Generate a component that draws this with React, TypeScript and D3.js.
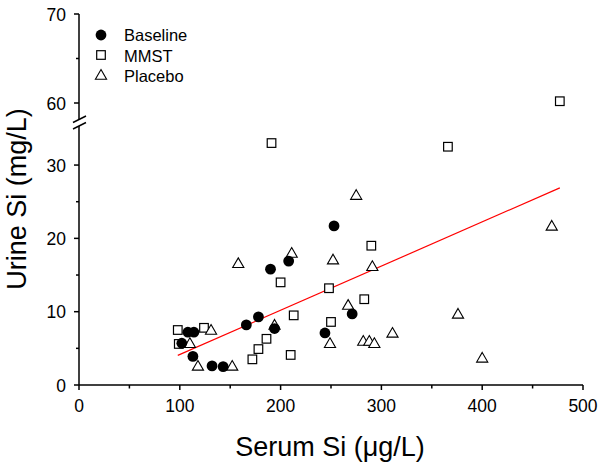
import * as d3 from 'd3'
import React from 'react'

// serum Si (µg/L) vs urine Si (mg/L)
const baselineX = [102, 108, 114, 113, 132, 143, 166, 178, 190, 194, 208, 244, 253, 271]
const baselineY = [5.7, 7.2, 7.2, 3.9, 2.6, 2.5, 8.2, 9.3, 15.8, 7.7, 16.9, 7.1, 21.7, 9.7]

const mmstX = [98, 99, 124, 172, 178, 186, 191, 200, 210, 213, 248, 250, 283, 290, 366, 477]
const mmstY = [7.5, 5.6, 7.8, 3.5, 4.9, 6.3, 33.0, 14.0, 4.1, 9.5, 13.2, 8.6, 11.7, 19.0, 32.5, 60.2]

const placeboX = [110, 118, 131, 152, 158, 194, 211, 249, 252, 267, 275, 282, 288, 293, 291, 311, 376, 400, 469]
const placeboY = [5.7, 2.6, 7.5, 2.6, 16.6, 8.2, 18.0, 5.7, 17.1, 10.9, 25.9, 6.0, 6.0, 5.7, 16.2, 7.1, 9.7, 3.7, 21.7]

// linear fit
const fitSlope = 0.0603
const fitIntercept = -1.87

const xTicks = [0, 100, 200, 300, 400, 500]
const lowerTicks = [0, 10, 20, 30]
const upperTicks = [60, 70]

const FONT = '"Liberation Sans", Arial, sans-serif'

const x = d3.scaleLinear().domain([0, 500]).range([79, 583])
const yLow = d3.scaleLinear().domain([0, 35]).range([385, 128.4])
const yHigh = d3.scaleLinear().domain([60, 70]).range([103, 14])

// values above the break go on the upper segment
const yPos = v => (v > 45 ? yHigh(v) : yLow(v))

const zip = (xs, ys) => xs.map((d, i) => ({ x: d, y: ys[i] }))

const Circle = ({ cx, cy }) => <circle cx={cx} cy={cy} r={5.4} fill="#000" />
const Square = ({ cx, cy }) => (
  <rect x={cx - 4.3} y={cy - 4.3} width={8.6} height={8.6} fill="#fff" stroke="#000" strokeWidth={1.2} />
)
const Triangle = ({ cx, cy }) => {
  const path = d3.symbol(d3.symbolTriangle, 54)()
  return <path d={path} transform={`translate(${cx},${cy + 1})`} fill="#fff" stroke="#000" strokeWidth={1.1} />
}

export default function App() {
  const allX = [...baselineX, ...mmstX, ...placeboX]
  const fit = d3.line().x(d => x(d)).y(d => yLow(fitIntercept + fitSlope * d))([d3.min(allX), d3.max(allX)])

  const axisX = x(0)
  const minorX = d3.range(50, 500, 100)
  const minorLow = [5, 15, 25]
  const minorHigh = [65]

  return (
    <svg width={600} height={466} style={{ position: 'absolute', left: 0, top: 0, background: '#fff' }}>
      <g fontFamily={FONT}>
        {/* x axis */}
        <line x1={x(0)} x2={x(500)} y1={385} y2={385} stroke="#000" strokeWidth={1.5} />
        {xTicks.map(t => (
          <g key={t}>
            <line x1={x(t)} x2={x(t)} y1={385} y2={390} stroke="#000" strokeWidth={1.5} />
            <text x={x(t)} y={412} fontSize={17.5} textAnchor="middle">{t}</text>
          </g>
        ))}
        {minorX.map(t => (
          <line key={t} x1={x(t)} x2={x(t)} y1={385} y2={388.5} stroke="#000" strokeWidth={1.5} />
        ))}

        {/* y axis, lower part */}
        <line x1={axisX} x2={axisX} y1={385} y2={126} stroke="#000" strokeWidth={1.5} />
        {lowerTicks.map(t => (
          <g key={t}>
            <line x1={axisX - 5} x2={axisX} y1={yLow(t)} y2={yLow(t)} stroke="#000" strokeWidth={1.5} />
            <text x={axisX - 13} y={yLow(t) + 6.5} fontSize={17.5} textAnchor="end">{t}</text>
          </g>
        ))}
        {minorLow.map(t => (
          <line key={t} x1={axisX - 3} x2={axisX} y1={yLow(t)} y2={yLow(t)} stroke="#000" strokeWidth={1.5} />
        ))}

        {/* y axis, upper part */}
        <line x1={axisX} x2={axisX} y1={14} y2={119} stroke="#000" strokeWidth={1.5} />
        {upperTicks.map(t => (
          <g key={t}>
            <line x1={axisX - 5} x2={axisX} y1={yHigh(t)} y2={yHigh(t)} stroke="#000" strokeWidth={1.5} />
            <text x={axisX - 13} y={yHigh(t) + 6.5} fontSize={17.5} textAnchor="end">{t}</text>
          </g>
        ))}
        {minorHigh.map(t => (
          <line key={t} x1={axisX - 3} x2={axisX} y1={yHigh(t)} y2={yHigh(t)} stroke="#000" strokeWidth={1.5} />
        ))}

        {/* break marks */}
        <line x1={axisX - 6} x2={axisX + 7} y1={122.5} y2={116} stroke="#000" strokeWidth={1.5} />
        <line x1={axisX - 6} x2={axisX + 7} y1={129} y2={122.5} stroke="#000" strokeWidth={1.5} />

        {/* axis titles */}
        <text x={330} y={456} fontSize={27} textAnchor="middle">Serum Si (μg/L)</text>
        <text transform="translate(26,199) rotate(-90)" fontSize={27} textAnchor="middle">Urine Si (mg/L)</text>

        {/* fit line */}
        <path d={fit} fill="none" stroke="#ff0000" strokeWidth={1.2} />

        {/* points */}
        {zip(mmstX, mmstY).map((d, i) => (
          <Square key={'m' + i} cx={x(d.x)} cy={yPos(d.y)} />
        ))}
        {zip(placeboX, placeboY).map((d, i) => (
          <Triangle key={'p' + i} cx={x(d.x)} cy={yPos(d.y)} />
        ))}
        {zip(baselineX, baselineY).map((d, i) => (
          <Circle key={'b' + i} cx={x(d.x)} cy={yPos(d.y)} />
        ))}

        {/* legend */}
        <Circle cx={101} cy={35} />
        <text x={124} y={41} fontSize={16.5}>Baseline</text>
        <Square cx={101} cy={55} />
        <text x={124} y={62} fontSize={16.5}>MMST</text>
        <Triangle cx={101} cy={75} />
        <text x={124} y={82} fontSize={16.5}>Placebo</text>
      </g>
    </svg>
  )
}
